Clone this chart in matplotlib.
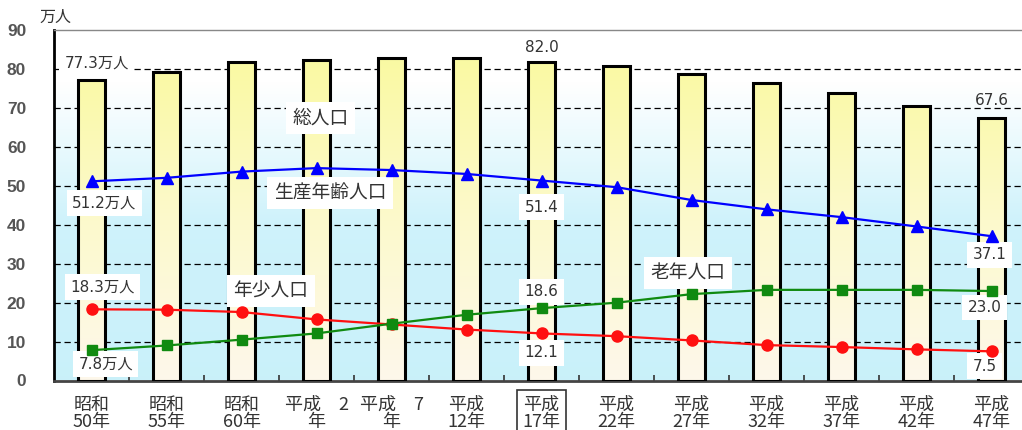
import numpy as np
import matplotlib
matplotlib.use("Agg")
import matplotlib.pyplot as plt
from matplotlib.colors import LinearSegmentedColormap
from matplotlib.ticker import FixedLocator

plt.rcParams['font.family'] = ['Noto Sans CJK JP', 'DejaVu Sans']

# 年次
years = ["昭和\n50年", "昭和\n55年", "昭和\n60年", "平成　2\n年", "平成　7\n年",
         "平成\n12年", "平成\n17年", "平成\n22年", "平成\n27年", "平成\n32年",
         "平成\n37年", "平成\n42年", "平成\n47年"]
# 総人口（万人）
total = [77.3, 79.4, 81.8, 82.3, 82.8, 82.8, 82.0, 80.8, 78.9, 76.4, 73.8, 70.6, 67.6]
# 生産年齢人口（万人）
working = [51.2, 52.1, 53.7, 54.6, 54.1, 53.1, 51.4, 49.7, 46.4, 44.0, 42.0, 39.6, 37.1]
# 年少人口（万人）
young = [18.3, 18.2, 17.6, 15.7, 14.4, 13.1, 12.1, 11.4, 10.3, 9.1, 8.6, 8.0, 7.5]
# 老年人口（万人）
elderly = [7.8, 9.0, 10.5, 12.1, 14.6, 16.9, 18.6, 20.0, 22.2, 23.3, 23.3, 23.3, 23.0]
yticks = list(range(0, 100, 10))

x = np.arange(len(years))
W, H = 1022, 430
fig = plt.figure(figsize=(W / 100, H / 100), dpi=100)
ax = fig.add_axes([54 / W, 49.5 / H, (W - 54) / W, 350.1 / H])
xmin, xmax = -0.5, (W - 54) / 75 - 0.5
ymin, ymax = 0, 90

# plot-area background: white at the top fading to pale cyan
bg_cmap = LinearSegmentedColormap.from_list("bg", [
    (0.0, (0.79, 0.945, 0.98)),
    (0.45, (0.81, 0.95, 0.985)),
    (0.68, (0.92, 0.98, 0.995)),
    (0.85, (1.0, 1.0, 1.0)),
    (1.0, (1.0, 1.0, 1.0))])
grad = np.linspace(0, 1, 256).reshape(-1, 1)
ax.imshow(grad, extent=[xmin, xmax, ymin, ymax], origin='lower', aspect='auto',
          cmap=bg_cmap, zorder=0)

# dashed grid
for yv in yticks[1:-1]:
    ax.axhline(yv, color='black', lw=0.9, ls=(0, (5, 3)), zorder=1)

# bars with vertical yellow gradient
bar_cmap = LinearSegmentedColormap.from_list("bar", [
    (0.0, (0.995, 0.97, 0.92)),
    (0.5, (0.99, 0.98, 0.80)),
    (1.0, (0.98, 0.98, 0.64))])
bw = 0.36
bars = ax.bar(x, total, width=bw, facecolor='none', edgecolor='black', lw=2.2, zorder=3)
for xi, h, patch in zip(x, total, bars):
    g = np.linspace(0, h / 82.0, 128).reshape(-1, 1)
    im = ax.imshow(g, extent=[xi - bw / 2, xi + bw / 2, 0, h], origin='lower',
                   aspect='auto', cmap=bar_cmap, vmin=0, vmax=1, zorder=2.9)
    im.set_clip_path(patch)

# lines
ax.plot(x, working, color='#0000ff', marker='^', ms=8, lw=1.6, zorder=6)
ax.plot(x, young, color='#ff1010', marker='o', ms=8, lw=1.6, zorder=6)
ax.plot(x, elderly, color='#108a10', marker='s', ms=7, lw=1.6, zorder=6)

# annotations
box = dict(boxstyle='square,pad=0.35', fc='white', ec='none')
def note(xp, yp, s, fs=11, boxed=True):
    ax.text(xp, yp, s, ha='center', va='center', fontsize=fs, color='#333333',
            family=['DejaVu Sans', 'Noto Sans CJK JP'],
            bbox=box if boxed else None, zorder=5)

note(0.07, 81.6, f"{total[0]}万人")
note(6, 85.7, f"{total[6]:.1f}", boxed=False)
note(12, 72.1, f"{total[12]:.1f}", boxed=False)
note(3.05, 67.5, "総人口", fs=13.5)
note(3.18, 48.2, "生産年齢人口", fs=13.5)
note(0.17, 45.7, f"{working[0]}万人")
note(6, 44.6, f"{working[6]:.1f}")
note(11.97, 32.3, f"{working[12]:.1f}")
note(0.15, 24.0, f"{young[0]}万人")
note(2.39, 23.1, "年少人口", fs=13.5)
note(6, 22.8, f"{elderly[6]:.1f}")
note(7.95, 27.6, "老年人口", fs=13.5)
note(11.91, 18.8, f"{elderly[12]:.1f}")
note(6, 7.1, f"{young[6]:.1f}")
note(0.19, 4.2, f"{elderly[0]}万人")
note(11.91, 3.7, f"{young[12]:.1f}")

# axes
ax.set_xlim(xmin, xmax)
ax.set_ylim(ymin, ymax)
ax.set_xticks(x)
ax.set_xticklabels(years, fontsize=13, color='#333333', linespacing=0.95)
ax.tick_params(axis='x', which='major', length=0, pad=11)
ax.xaxis.set_minor_locator(FixedLocator(np.arange(0.5, len(years) - 1, 1)))
ax.tick_params(axis='x', which='minor', direction='in', length=4, width=1.2, color='#333333')
ax.set_yticks(yticks)
ax.set_yticklabels([str(v) for v in yticks], fontsize=12.5, fontweight='bold',
                   color='#555555', family='Liberation Sans')
ax.tick_params(axis='y', length=0, pad=20)
ax.get_xticklabels()[6].set_bbox(dict(boxstyle='square,pad=0.3', fc='white',
                                      ec='#333333', lw=1.2))

ax.spines['left'].set_color('black')
ax.spines['left'].set_linewidth(2)
ax.spines['bottom'].set_color('#444444')
ax.spines['bottom'].set_linewidth(2)
ax.spines['top'].set_color('#888888')
ax.spines['top'].set_linewidth(1)
ax.spines['right'].set_visible(False)

fig.text(55 / W, 1 - 17 / H, "万人", ha='center', va='center', fontsize=11.5, color='#333333')

fig.savefig("out.png", dpi=100, facecolor='white')
